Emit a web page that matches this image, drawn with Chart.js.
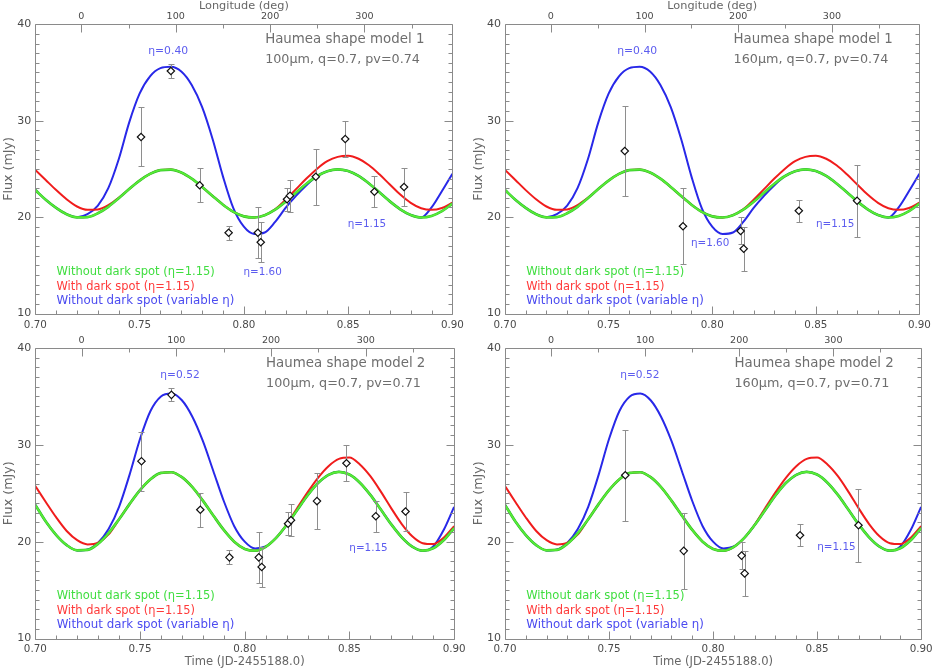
<!DOCTYPE html>
<html>
<head>
<meta charset="utf-8">
<title>Haumea thermal lightcurves</title>
<script src="https://cdn.jsdelivr.net/npm/chart.js@4.4.1/dist/chart.umd.min.js"></script>
<style>
  html, body { margin:0; padding:0; background:#ffffff; }
  #wrap { position:relative; width:937px; height:670px; overflow:hidden; background:#fff; }
  #wrap canvas { position:absolute; }
</style>
</head>
<body>
<div id="wrap">
  <canvas id="c0" width="470" height="336" style="left:0px;top:0px"></canvas>
  <canvas id="c1" width="467" height="336" style="left:470px;top:0px"></canvas>
  <canvas id="c2" width="470" height="334" style="left:0px;top:336px"></canvas>
  <canvas id="c3" width="467" height="334" style="left:470px;top:336px"></canvas>
</div>
<script>
// ---------------- data ----------------
const timeGrid = [0.700,0.705,0.710,0.715,0.720,0.725,0.730,0.735,0.740,0.745,0.750,0.755,0.760,0.765,0.770,0.775,0.780,0.785,0.790,0.795,0.800,0.805,0.810,0.815,0.820,0.825,0.830,0.835,0.840,0.845,0.850,0.855,0.860,0.865,0.870,0.875,0.880,0.885,0.890,0.895,0.900];

// shape model 1
const m1Green = [22.8,21.8,20.95,20.3,19.98,20.0,20.4,21.07,21.96,22.91,23.79,24.48,24.88,24.93,24.62,23.98,23.13,22.19,21.28,20.54,20.08,19.96,20.2,20.77,21.59,22.53,23.46,24.24,24.76,24.95,24.78,24.27,23.49,22.57,21.63,20.81,20.22,19.96,20.12,20.62,21.39];
const m1Red   = [24.9,23.85,22.8,21.85,21.1,20.75,20.8,21.25,22.0,22.91,23.79,24.48,24.88,24.93,24.62,23.98,23.13,22.19,21.28,20.54,20.08,19.96,20.2,20.8,21.8,22.9,24.0,25.0,25.8,26.25,26.36,26.05,25.38,24.44,23.38,22.34,21.48,20.92,20.75,20.95,21.5];
const m1Blue  = [22.8,21.8,20.95,20.3,19.98,20.3,21.2,23.0,26.0,29.8,32.8,34.6,35.45,35.6,35.1,33.7,31.4,28.1,24.2,20.9,19.0,18.25,18.4,19.5,20.95,22.2,23.3,24.24,24.76,24.95,24.78,24.27,23.49,22.57,21.63,20.81,20.22,19.96,21.0,22.7,24.5];

// shape model 2
const m2Green = [23.8,22.08,20.68,19.64,19.10,19.15,19.78,20.88,22.32,23.88,25.32,26.45,27.10,27.17,26.66,25.63,24.24,22.70,21.21,20.0,19.25,19.06,19.46,20.39,21.72,23.25,24.77,26.05,26.90,27.21,26.93,26.09,24.83,23.32,21.78,20.45,19.49,19.07,19.32,20.15,21.40];
const m2Red   = [25.75,24.1,22.5,21.1,20.15,19.72,19.9,20.75,22.32,23.88,25.32,26.45,27.10,27.17,26.66,25.63,24.24,22.70,21.21,20.0,19.25,19.06,19.46,20.39,21.75,23.45,25.1,26.6,27.8,28.55,28.68,27.97,26.76,25.17,23.44,21.82,20.56,19.84,19.75,20.4,21.6];
const m2Blue  = [23.8,22.08,20.68,19.64,19.10,19.2,19.9,21.3,23.6,26.9,30.6,33.5,35.0,35.3,34.6,32.9,30.4,27.3,24.2,21.6,20.0,19.3,19.5,20.39,21.72,23.25,24.77,26.05,26.90,27.21,26.93,26.09,24.83,23.32,21.78,20.45,19.49,19.07,19.5,21.2,23.6];

// observations 100 micron
const t100 = [0.7507,0.7650,0.7788,0.7927,0.8067,0.8081,0.8207,0.8221,0.8345,0.8486,0.8626,0.8768];
const f100 = [28.31,35.16,23.30,18.38,18.38,17.39,21.85,22.22,24.19,28.10,22.63,23.12];
const e100 = [3.06,0.68,1.76,0.72,2.62,2.07,1.20,1.66,2.90,1.84,1.60,2.00];

// observations 160 micron
const t160 = [0.7578,0.7859,0.8137,0.8152,0.8418,0.8699];
const f160 = [26.86,19.05,18.56,16.72,20.66,21.70];
const e160 = [4.70,3.95,1.40,2.30,1.15,3.75];

// tick labels
const timeTicks = [0.70,0.75,0.80,0.85,0.90];
const lonTicks  = [0,100,200,300];
const fluxTicks = [10,20,30,40];

// longitude zero and rotation period (for the top axis)
const LON_T0 = 0.7221, ROT_P = 0.16285;

// texts
const legendTexts = ['Without dark spot (\u03b7=1.15)', 'With dark spot (\u03b7=1.15)', 'Without dark spot (variable \u03b7)'];

// ---------------- styling ----------------
const FONT = '"DejaVu Sans", "Liberation Sans", sans-serif';
const C_BLUE = '#2828e8', C_RED = '#f01c1c', C_GREEN_D = '#34c52c', C_GREEN_L = '#58ec36';
const ETA_C = '#5c5cef', LEG_G = '#40de40', LEG_R = '#ff3a3a', LEG_B = '#4b4bf0';
const MODEL_C = '#6e6e6e', TICK_C = '#4a4a4a', TITLE_C = '#666666', FRAME_C = '#8a8a8a', ERR_C = '#8e8e8e';

const mctx = document.createElement('canvas').getContext('2d');
function fit(text, w) { mctx.font = '100px ' + FONT; return 100 * w / mctx.measureText(text).width; }
const sTick = fit('0.70', 23);
const sYTick = fit('40', 14);
const sLon = fit('100', 18.3);
const sTitle = fit('Longitude (deg)', 90);
const sTime = fit('Time (JD-2455188.0)', 120);
const sFlux = fit('Flux (mJy)', 64);

const LON_MIN = (0.70 - LON_T0) / ROT_P * 360;
const LON_MAX = (0.90 - LON_T0) / ROT_P * 360;

function note(text, t, f, color, align, w) { return {text, t, f, color, align, size: fit(text, w)}; }

function legendNotes(rows) {
  return [
    note(legendTexts[0], 0.7102, rows[0], LEG_G, 'left', 158.3),
    note(legendTexts[1], 0.7102, rows[1], LEG_R, 'left', 138.3),
    note(legendTexts[2], 0.7102, rows[2], LEG_B, 'left', 177.7)
  ];
}

// ---------------- plugins ----------------
const framePlugin = {
  id: 'frame',
  afterDatasetsDraw(chart) {
    const {ctx, chartArea: a, scales} = chart;
    const r = v => Math.round(v) + 0.5;
    ctx.save();
    ctx.strokeStyle = FRAME_C; ctx.lineWidth = 1;
    ctx.beginPath();
    ctx.rect(r(a.left), r(a.top), Math.round(a.right) - Math.round(a.left), Math.round(a.bottom) - Math.round(a.top));
    for (let k = 70; k <= 90; k++) {
      const p = r(scales.x.getPixelForValue(k / 100));
      const L = (k % 5 === 0) ? 8 : 4;
      ctx.moveTo(p, r(a.bottom)); ctx.lineTo(p, r(a.bottom) - L);
    }
    for (let d = 0; d <= 350; d += 50) {
      const p = r(scales.lon.getPixelForValue(d));
      const L = (d % 100 === 0) ? 8 : 4;
      ctx.moveTo(p, r(a.top)); ctx.lineTo(p, r(a.top) + L);
    }
    for (let f = 10; f <= 40; f++) {
      const p = r(scales.y.getPixelForValue(f));
      const L = (f % 10 === 0) ? 8 : 4;
      ctx.moveTo(r(a.left), p); ctx.lineTo(r(a.left) + L, p);
      ctx.moveTo(r(a.right), p); ctx.lineTo(r(a.right) - L, p);
    }
    ctx.stroke();
    ctx.restore();
  }
};

const errPlugin = {
  id: 'errbars',
  beforeDatasetDraw(chart, args) {
    const ds = chart.data.datasets[args.index];
    if (!ds.errors) return;
    const {ctx, scales: {x, y}} = chart;
    ctx.save();
    ctx.strokeStyle = ERR_C; ctx.lineWidth = 1;
    ctx.beginPath();
    ds.data.forEach((pt, i) => {
      const e = ds.errors[i];
      const px = Math.round(x.getPixelForValue(pt.x)) + 0.5;
      const y1 = Math.round(y.getPixelForValue(pt.y + e)) + 0.5;
      const y2 = Math.round(y.getPixelForValue(pt.y - e)) + 0.5;
      ctx.moveTo(px, y1); ctx.lineTo(px, y2);
      ctx.moveTo(px - 3, y1); ctx.lineTo(px + 3, y1);
      ctx.moveTo(px - 3, y2); ctx.lineTo(px + 3, y2);
    });
    ctx.stroke();
    ctx.restore();
  }
};

const notesPlugin = {
  id: 'notes',
  afterDatasetsDraw(chart, args, opts) {
    const {ctx, scales} = chart;
    ctx.save();
    ctx.textBaseline = 'middle';
    (opts.items || []).forEach(n => {
      ctx.font = n.size.toFixed(2) + 'px ' + FONT;
      ctx.fillStyle = n.color;
      ctx.textAlign = n.align;
      ctx.fillText(n.text, scales.x.getPixelForValue(n.t), scales.y.getPixelForValue(n.f));
    });
    ctx.restore();
  }
};

// ---------------- panels ----------------
function series(arr) { return timeGrid.map((t, i) => ({x: t, y: arr[i]})); }
function points(ts, fs) { return ts.map((t, i) => ({x: t, y: fs[i]})); }

const panels = [
  {id: 'c0', top: true, padR: 15, yW: 35.3,
   curves: [m1Green, m1Red, m1Blue], obs: [t100, f100, e100],
   notes: [note('\u03b7=0.40', 0.7637, 37.2, ETA_C, 'center', 40),
           note('\u03b7=1.60', 0.8090, 14.27, ETA_C, 'center', 38.3),
           note('\u03b7=1.15', 0.8590, 19.28, ETA_C, 'center', 38.3),
           note('Haumea shape model 1', 0.8102, 38.37, MODEL_C, 'left', 159.3),
           note('100\u03bcm, q=0.7, pv=0.74', 0.8102, 36.37, MODEL_C, 'left', 155)
          ].concat(legendNotes([14.3, 12.78, 11.29]))},
  {id: 'c1', top: true, padR: 12, yW: 35,
   curves: [m1Green, m1Red, m1Blue], obs: [t160, f160, e160],
   notes: [note('\u03b7=0.40', 0.7638, 37.2, ETA_C, 'center', 40),
           note('\u03b7=1.60', 0.7990, 17.28, ETA_C, 'center', 38.3),
           note('\u03b7=1.15', 0.8593, 19.28, ETA_C, 'center', 38.3),
           note('Haumea shape model 1', 0.8103, 38.37, MODEL_C, 'left', 159.3),
           note('160\u03bcm, q=0.7, pv=0.74', 0.8103, 36.37, MODEL_C, 'left', 155)
          ].concat(legendNotes([14.3, 12.78, 11.29]))},
  {id: 'c2', top: false, padR: 15, yW: 35.3,
   curves: [m2Green, m2Red, m2Blue], obs: [t100, f100, e100],
   notes: [note('\u03b7=0.52', 0.7691, 37.2, ETA_C, 'center', 39.3),
           note('\u03b7=1.15', 0.8591, 19.31, ETA_C, 'center', 38.3),
           note('Haumea shape model 2', 0.8102, 38.35, MODEL_C, 'left', 159.3),
           note('100\u03bcm, q=0.7, pv=0.71', 0.8102, 36.35, MODEL_C, 'left', 155)
          ].concat(legendNotes([14.38, 12.86, 11.38]))},
  {id: 'c3', top: false, padR: 12, yW: 35,
   curves: [m2Green, m2Red, m2Blue], obs: [t160, f160, e160],
   notes: [note('\u03b7=0.52', 0.7648, 37.2, ETA_C, 'center', 39.3),
           note('\u03b7=1.15', 0.8593, 19.4, ETA_C, 'center', 38.3),
           note('Haumea shape model 2', 0.8103, 38.35, MODEL_C, 'left', 159.3),
           note('160\u03bcm, q=0.7, pv=0.71', 0.8103, 36.35, MODEL_C, 'left', 155)
          ].concat(legendNotes([14.38, 12.86, 11.38]))}
];

function lineDs(label, arr, color, width) {
  return {type: 'line', label, data: series(arr), borderColor: color, borderWidth: width,
          pointRadius: 0, fill: false, cubicInterpolationMode: 'monotone', xAxisID: 'x', yAxisID: 'y'};
}

panels.forEach(P => {
  const topH = P.top ? 24.3 : 12;
  const botH = P.top ? 22.5 : 31.5;
  const xPad = P.top ? 6.1 : 4.4;
  const lonPad = P.top ? 2.4 : 1.8;
  const [g, rd, b] = P.curves;
  const [ts, fs, es] = P.obs;
  new Chart(document.getElementById(P.id), {
    type: 'line',
    data: {
      datasets: [
        {type: 'scatter', label: 'data', data: points(ts, fs), errors: es, showLine: false,
         pointStyle: 'rectRot', pointRadius: 3.7, pointBorderWidth: 1.2,
         pointBorderColor: '#111', pointBackgroundColor: '#fff', xAxisID: 'x', yAxisID: 'y'},
        lineDs(legendTexts[0], g, C_GREEN_L, 1.6),
        lineDs(legendTexts[0], g, C_GREEN_D, 2.7),
        lineDs(legendTexts[1], rd, C_RED, 2),
        lineDs(legendTexts[2], b, C_BLUE, 2)
      ]
    },
    options: {
      responsive: false,
      animation: false,
      layout: {padding: {left: 0, right: P.padR, top: 0, bottom: 0}},
      plugins: {legend: {display: false}, tooltip: {enabled: false}, notes: {items: P.notes}},
      scales: {
        x: {
          type: 'linear', position: 'bottom', min: 0.70, max: 0.90, bounds: 'data',
          afterBuildTicks: s => { s.ticks = timeTicks.map(v => ({value: v})); },
          afterFit: s => { s.height = botH; },
          ticks: {callback: v => Number(v).toFixed(2), font: {family: FONT, size: sTick}, color: TICK_C,
                  padding: xPad, maxRotation: 0, autoSkip: false},
          grid: {display: false, drawTicks: false}, border: {display: false},
          title: {display: !P.top, text: 'Time (JD-2455188.0)', color: TITLE_C,
                  font: {family: FONT, size: sTime}, padding: {top: 0, bottom: 1.1}}
        },
        lon: {
          type: 'linear', axis: 'x', position: 'top', min: LON_MIN, max: LON_MAX, bounds: 'data',
          afterBuildTicks: s => { s.ticks = lonTicks.map(v => ({value: v})); },
          afterFit: s => { s.height = topH; },
          ticks: {callback: v => String(Math.round(v)), font: {family: FONT, size: sLon}, color: TICK_C,
                  padding: lonPad, maxRotation: 0, autoSkip: false},
          grid: {display: false, drawTicks: false}, border: {display: false},
          title: {display: P.top, text: 'Longitude (deg)', color: TITLE_C,
                  font: {family: FONT, size: sTitle, lineHeight: 1}, padding: {top: 0.5, bottom: 0}}
        },
        y: {
          type: 'linear', position: 'left', min: 10, max: 40, bounds: 'data',
          afterBuildTicks: s => { s.ticks = fluxTicks.map(v => ({value: v})); },
          afterFit: s => { s.width = P.yW; },
          ticks: {callback: v => String(v), font: {family: FONT, size: sYTick}, color: TICK_C, padding: 4, autoSkip: false},
          grid: {display: false, drawTicks: false}, border: {display: false},
          title: {display: true, text: 'Flux (mJy)', color: TITLE_C,
                  font: {family: FONT, size: sFlux, lineHeight: 1.2}, padding: {top: 0.6, bottom: 0}}
        }
      }
    },
    plugins: [errPlugin, framePlugin, notesPlugin]
  });
});
</script>
</body>
</html>
